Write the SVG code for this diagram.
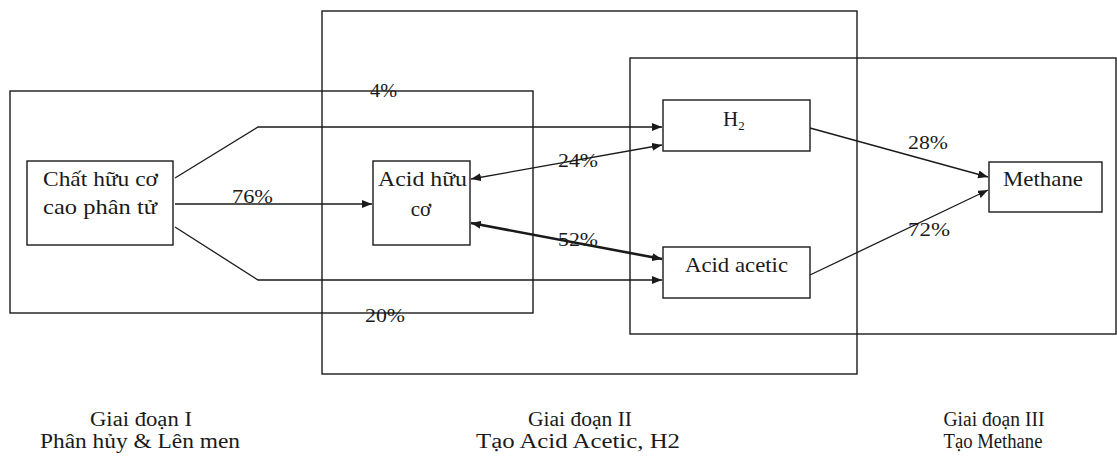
<svg xmlns="http://www.w3.org/2000/svg" width="1117" height="457" viewBox="0 0 1117 457">
<style>
.stage{fill:none;stroke:#1a1a1a;stroke-width:1.4}
.box{fill:#fff;stroke:#1a1a1a;stroke-width:1.4}
.ln{fill:none;stroke:#1a1a1a;stroke-width:1.3}
.thick{fill:none;stroke:#1a1a1a;stroke-width:2.6}
.t{font-family:"Liberation Serif","Times New Roman",serif;font-size:21px;fill:#1a1a1a}
.p{font-family:"Liberation Serif","Times New Roman",serif;font-size:19px;fill:#1a1a1a}
.b{font-family:"Liberation Serif","Times New Roman",serif;font-size:20px;fill:#1a1a1a;text-anchor:middle}
</style>
<defs>
<marker id="ah" viewBox="0 0 10 8" refX="10" refY="4" markerWidth="10" markerHeight="8" markerUnits="userSpaceOnUse" orient="auto-start-reverse">
<path d="M0,0 L10,4 L0,8 z" fill="#1a1a1a"/>
</marker>
</defs>
<rect width="1117" height="457" fill="#fff"/>
<g id="stage1"><rect class="stage" x="10" y="91" width="523" height="222"/></g>
<g id="stage2"><rect class="stage" x="322" y="11" width="535" height="363"/></g>
<g id="stage3"><rect class="stage" x="630" y="58" width="486" height="276"/></g>
<g id="connectors">
<polyline class="ln" points="175,178 258,127 662,127" marker-end="url(#ah)"/>
<line class="ln" x1="175" y1="204" x2="372" y2="204" marker-end="url(#ah)"/>
<polyline class="ln" points="175,227 258,280 662,280" marker-end="url(#ah)"/>
<line class="ln" x1="471" y1="179" x2="662" y2="145" marker-start="url(#ah)" marker-end="url(#ah)"/>
<line class="thick" x1="471" y1="223" x2="662" y2="259" marker-start="url(#ah)" marker-end="url(#ah)"/>
<line class="ln" x1="810" y1="128" x2="988" y2="177" marker-end="url(#ah)"/>
<line class="ln" x1="810" y1="275" x2="988" y2="190" marker-end="url(#ah)"/>
</g>
<g id="n-chat"><rect class="box" x="27" y="161" width="146" height="84"/>
<text class="t" x="43" y="186" textLength="115" lengthAdjust="spacingAndGlyphs">Chất hữu cơ</text>
<text class="t" x="43" y="214" textLength="114" lengthAdjust="spacingAndGlyphs">cao phân tử</text></g>
<g id="n-acid"><rect class="box" x="373" y="161" width="97" height="84"/>
<text class="t" x="378" y="186" textLength="89" lengthAdjust="spacingAndGlyphs">Acid  hữu</text>
<text class="t" x="421" y="216" text-anchor="middle">cơ</text></g>
<g id="n-h2"><rect class="box" x="663" y="100" width="147" height="51"/>
<text class="t" x="723" y="126">H<tspan font-size="13" dy="4">2</tspan></text></g>
<g id="n-acetic"><rect class="box" x="663" y="247" width="147" height="51"/>
<text class="t" x="685" y="272" textLength="103" lengthAdjust="spacingAndGlyphs">Acid acetic</text></g>
<g id="n-methane"><rect class="box" x="989" y="162" width="113" height="50"/>
<text class="t" x="1003" y="186" textLength="80" lengthAdjust="spacingAndGlyphs">Methane</text></g>
<g id="pct">
<text class="p" x="370" y="97" textLength="27" lengthAdjust="spacingAndGlyphs">4%</text>
<text class="p" x="232" y="203" textLength="41" lengthAdjust="spacingAndGlyphs">76%</text>
<text class="p" x="558" y="167" textLength="40" lengthAdjust="spacingAndGlyphs">24%</text>
<text class="p" x="558" y="246" textLength="40" lengthAdjust="spacingAndGlyphs">52%</text>
<text class="p" x="365" y="322" textLength="40" lengthAdjust="spacingAndGlyphs">20%</text>
<text class="p" x="908" y="149" textLength="40" lengthAdjust="spacingAndGlyphs">28%</text>
<text class="p" x="908" y="236" textLength="42" lengthAdjust="spacingAndGlyphs">72%</text>
</g>
<g id="captions">
<text class="b" x="141" y="426" textLength="102" lengthAdjust="spacingAndGlyphs">Giai đoạn I</text>
<text class="b" x="140" y="448" textLength="200" lengthAdjust="spacingAndGlyphs">Phân hủy &amp; Lên men</text>
<text class="b" x="580" y="426" textLength="104" lengthAdjust="spacingAndGlyphs">Giai đoạn II</text>
<text class="b" x="578" y="448" textLength="204" lengthAdjust="spacingAndGlyphs">Tạo Acid Acetic, H2</text>
<text class="b" x="994" y="426" textLength="101" lengthAdjust="spacingAndGlyphs">Giai đoạn III</text>
<text class="b" x="993" y="448" textLength="99" lengthAdjust="spacingAndGlyphs">Tạo Methane</text>
</g>
</svg>
